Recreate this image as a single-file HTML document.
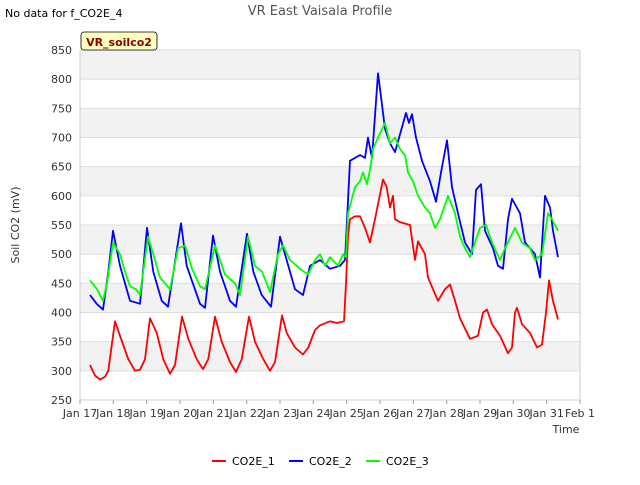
<!DOCTYPE html>
<html><head><meta charset="utf-8"><style>
body{margin:0;background:#fff;font-family:"Liberation Sans",sans-serif}
svg text{font-family:"DejaVu Sans","Liberation Sans",sans-serif}
</style></head><body>
<svg id="c" width="640" height="480" xmlns="http://www.w3.org/2000/svg">
<text x="5" y="17" font-size="11" fill="#000">No data for f_CO2E_4</text>
<text x="320" y="15" font-size="13" fill="#555" text-anchor="middle">VR East Vaisala Profile</text>
<g id="bands"></g>
<g id="grid"></g>
<g id="series"></g>
<g id="axes"></g>
<rect x="81" y="32" width="76" height="18" rx="3" fill="#ffffc0" stroke="#000" stroke-width="0.8"/>
<text x="119" y="46" font-size="11" font-weight="bold" fill="#8b0000" text-anchor="middle">VR_soilco2</text>
<text transform="translate(19,225) rotate(-90)" font-size="11" fill="#333" text-anchor="middle">Soil CO2 (mV)</text>
<text x="566" y="433" font-size="11" fill="#333" text-anchor="middle">Time</text>
<g>
<line x1="212" y1="461" x2="226" y2="461" stroke="#ff0000" stroke-width="2"/>
<text x="232" y="465" font-size="11" fill="#000">CO2E_1</text>
<line x1="289" y1="461" x2="303" y2="461" stroke="#0000ff" stroke-width="2"/>
<text x="309" y="465" font-size="11" fill="#000">CO2E_2</text>
<line x1="366" y1="461" x2="380" y2="461" stroke="#00ff00" stroke-width="2"/>
<text x="386" y="465" font-size="11" fill="#000">CO2E_3</text>
</g>
</svg>
<script>
const yTicks=[250,300,350,400,450,500,550,600,650,700,750,800,850];
const xTickLabels=["Jan 17","Jan 18","Jan 19","Jan 20","Jan 21","Jan 22","Jan 23","Jan 24","Jan 25","Jan 26","Jan 27","Jan 28","Jan 29","Jan 30","Jan 31","Feb 1"];
const t1=[0.3,0.45,0.6,0.75,0.85,1.05,1.2,1.45,1.65,1.8,1.95,2.1,2.3,2.5,2.7,2.85,3.06,3.25,3.5,3.69,3.85,4.05,4.25,4.5,4.68,4.85,5.07,5.25,5.5,5.7,5.85,6.06,6.2,6.45,6.69,6.85,7.05,7.2,7.5,7.7,7.92,7.98,8.04,8.1,8.25,8.4,8.55,8.7,8.85,9.09,9.2,9.3,9.39,9.45,9.6,9.9,10.05,10.14,10.35,10.44,10.74,10.95,11.1,11.25,11.4,11.7,11.94,12.09,12.21,12.36,12.6,12.84,12.96,13.05,13.11,13.26,13.5,13.71,13.86,13.98,14.07,14.19,14.34];
const v1=[310,292,285,290,300,385,360,320,300,302,320,390,365,320,295,310,393,355,320,303,320,393,350,315,298,320,393,350,320,300,315,395,365,340,328,340,370,378,385,382,385,450,530,560,565,565,545,520,560,628,615,580,600,560,555,550,490,522,500,460,420,440,448,420,390,355,360,400,405,380,360,330,340,400,408,380,365,340,345,400,455,420,388];
const t2=[0.3,0.5,0.69,0.85,0.99,1.2,1.5,1.8,2.01,2.2,2.45,2.64,3.03,3.2,3.6,3.75,3.99,4.2,4.5,4.68,5.01,5.2,5.45,5.73,6.0,6.3,6.45,6.69,6.9,7.2,7.5,7.8,7.95,8.1,8.4,8.55,8.64,8.76,8.94,9.03,9.15,9.3,9.45,9.78,9.87,9.96,10.08,10.26,10.5,10.68,10.83,11.01,11.16,11.34,11.55,11.76,11.88,12.03,12.15,12.39,12.54,12.69,12.84,12.96,13.2,13.35,13.65,13.8,13.95,14.1,14.19,14.34];
const v2=[430,415,405,470,540,480,420,415,545,470,420,410,553,480,415,408,532,470,420,410,535,470,430,410,530,470,440,430,480,490,475,480,490,660,670,665,700,665,810,770,715,690,675,742,725,740,700,660,625,590,640,695,615,570,520,500,610,620,540,510,480,475,560,595,570,520,500,460,600,580,540,495];
const t3=[0.3,0.51,0.69,0.81,0.99,1.2,1.35,1.5,1.68,1.8,2.04,2.25,2.4,2.7,2.94,3.15,3.36,3.6,3.75,4.05,4.2,4.35,4.65,4.8,5.04,5.25,5.46,5.7,5.94,6.09,6.3,6.6,6.84,7.05,7.2,7.35,7.5,7.74,7.89,7.98,8.04,8.25,8.4,8.49,8.61,8.7,8.79,8.94,9.15,9.3,9.45,9.6,9.75,9.84,9.99,10.14,10.35,10.5,10.65,10.8,11.04,11.25,11.4,11.55,11.7,12.0,12.18,12.36,12.6,12.75,13.05,13.26,13.5,13.65,13.86,14.04,14.16,14.34];
const v3=[455,440,420,450,520,500,470,445,440,430,530,490,460,440,510,515,475,445,440,515,490,465,450,430,530,480,470,435,500,515,490,475,465,490,500,480,495,480,500,495,570,615,625,640,620,645,680,700,725,690,700,680,670,640,625,600,580,570,545,560,600,570,530,510,495,545,550,520,490,510,545,520,510,490,500,570,560,540];
const ns="http://www.w3.org/2000/svg";
const L=80,R=580,T=50,B=400;
const X=d=>L+(R-L)*d/15;
const Y=v=>B-(B-T)*(v-250)/600;
function mk(tag,attrs,parent){const e=document.createElementNS(ns,tag);for(const k in attrs)e.setAttribute(k,attrs[k]);parent.appendChild(e);return e;}
const bands=document.getElementById('bands'),grid=document.getElementById('grid'),axes=document.getElementById('axes'),series=document.getElementById('series');
for(let i=0;i<yTicks.length-1;i++){
  const top=yTicks.length-1-i;
  const r=mk('rect',{x:L,y:Y(yTicks[top]),width:R-L,height:Y(yTicks[top-1])-Y(yTicks[top]),fill:(i%2===0)?'#f2f2f2':'#ffffff'},bands);
  
  
}
yTicks.forEach(v=>{
  const l=mk('line',{x1:L,x2:R,y1:Y(v),y2:Y(v),stroke:'#dddddd','stroke-width':1},grid);
  
  
  const t=mk('text',{x:L-8,y:Y(v)+4,'font-size':11,fill:'#333','text-anchor':'end'},axes);
  t.textContent=v;
  
  
});
xTickLabels.forEach((s,i)=>{
  const l=mk('line',{x1:X(i),x2:X(i),y1:B,y2:B+4,stroke:'#999'},axes);
  
  
  const t=mk('text',{x:X(i),y:B+17,'font-size':11,fill:'#333','text-anchor':'middle'},axes);
  t.textContent=s;
  
  
});
const al=mk('line',{x1:L,x2:L,y1:T,y2:B,stroke:'#ccc'},axes);


const ar=mk('line',{x1:R,x2:R,y1:T,y2:B,stroke:'#ccc'},axes);


const ab=mk('line',{x1:L,x2:R,y1:B,y2:B,stroke:'#ccc'},axes);


function draw(ts,vs,color,name){
  const p=mk('polyline',{points:ts.map((t,i)=>X(t).toFixed(1)+','+Y(vs[i]).toFixed(1)).join(' '),fill:'none',stroke:color,'stroke-width':1.8,'stroke-linejoin':'round'},series);
  
  
}
draw(t1,v1,'#ff0000','co2e-1-line');
draw(t2,v2,'#0000ff','co2e-2-line');
draw(t3,v3,'#00ff00','co2e-3-line');
</script>
</body></html>
